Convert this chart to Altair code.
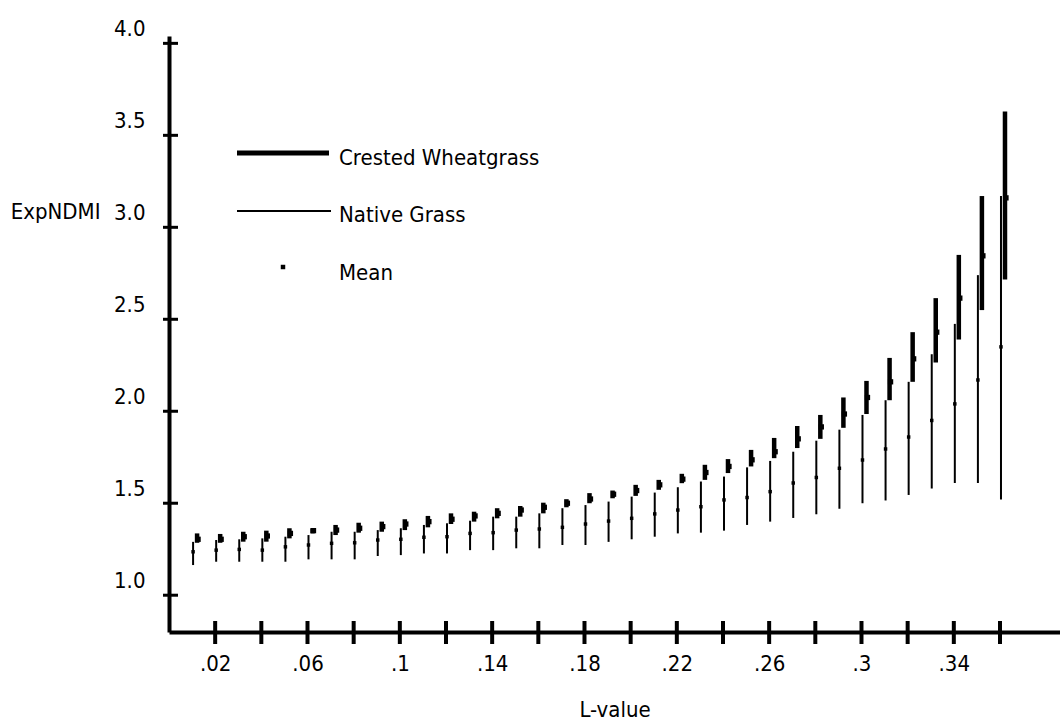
import altair as alt
import pandas as pd

# L-value categories along the x axis
L_VALUES = [0.01, 0.02, 0.03, 0.04, 0.05, 0.06, 0.07, 0.08, 0.09, 0.10,
            0.11, 0.12, 0.13, 0.14, 0.15, 0.16, 0.17, 0.18, 0.19, 0.20,
            0.21, 0.22, 0.23, 0.24, 0.25, 0.26, 0.27, 0.28, 0.29, 0.30,
            0.31, 0.32, 0.33, 0.34, 0.35, 0.36]

# Native Grass: range (low/high) and mean of ExpNDMI
NATIVE_LOW = [1.164, 1.182, 1.182, 1.182, 1.182, 1.195, 1.195, 1.195, 1.213, 1.218,
              1.227, 1.227, 1.245, 1.245, 1.255, 1.255, 1.273, 1.273, 1.290, 1.304,
              1.318, 1.336, 1.340, 1.351, 1.382, 1.400, 1.420, 1.440, 1.470, 1.500,
              1.515, 1.545, 1.580, 1.610, 1.610, 1.520]
NATIVE_HIGH = [1.290, 1.300, 1.304, 1.309, 1.318, 1.327, 1.345, 1.345, 1.354, 1.364,
               1.382, 1.391, 1.405, 1.427, 1.427, 1.445, 1.473, 1.490, 1.509, 1.536,
               1.558, 1.587, 1.618, 1.645, 1.695, 1.730, 1.780, 1.840, 1.900, 1.980,
               2.060, 2.160, 2.310, 2.475, 2.740, 3.170]
NATIVE_MEAN = [1.236, 1.245, 1.249, 1.245, 1.263, 1.273, 1.282, 1.285, 1.300, 1.304,
               1.315, 1.318, 1.336, 1.340, 1.354, 1.360, 1.369, 1.387, 1.403, 1.418,
               1.442, 1.463, 1.481, 1.518, 1.531, 1.563, 1.610, 1.640, 1.690, 1.735,
               1.795, 1.860, 1.950, 2.040, 2.170, 2.350]

# Crested Wheatgrass: range (low/high) and mean of ExpNDMI
CRESTED_LOW = [1.285, 1.285, 1.291, 1.291, 1.309, 1.336, 1.327, 1.340, 1.345, 1.354,
               1.369, 1.387, 1.400, 1.418, 1.427, 1.445, 1.478, 1.500, 1.527, 1.540,
               1.573, 1.609, 1.627, 1.664, 1.700, 1.745, 1.800, 1.850, 1.910, 1.985,
               2.060, 2.160, 2.265, 2.390, 2.550, 2.716]
CRESTED_HIGH = [1.336, 1.333, 1.345, 1.351, 1.364, 1.364, 1.382, 1.394, 1.400, 1.413,
                1.431, 1.445, 1.454, 1.473, 1.485, 1.503, 1.522, 1.555, 1.569, 1.600,
                1.627, 1.660, 1.709, 1.740, 1.790, 1.855, 1.920, 1.980, 2.075, 2.165,
                2.290, 2.430, 2.615, 2.850, 3.170, 3.630]
CRESTED_MEAN = [1.304, 1.304, 1.318, 1.322, 1.336, 1.351, 1.354, 1.364, 1.373, 1.387,
                1.400, 1.413, 1.431, 1.445, 1.463, 1.478, 1.500, 1.523, 1.549, 1.569,
                1.600, 1.631, 1.667, 1.700, 1.736, 1.780, 1.850, 1.915, 1.985, 2.075,
                2.160, 2.285, 2.430, 2.615, 2.845, 3.160]

# Axis tick positions
X_TICKS = [0.02, 0.04, 0.06, 0.08, 0.10, 0.12, 0.14, 0.16, 0.18, 0.20,
           0.22, 0.24, 0.26, 0.28, 0.30, 0.32, 0.34, 0.36]
Y_TICKS = [1.0, 1.5, 2.0, 2.5, 3.0, 3.5, 4.0]

LEGEND_LABELS = ["Crested Wheatgrass", "Native Grass", "Mean"]

FONT = "DejaVu Sans Condensed, Liberation Sans"
FONT_SIZE = 22
W, H = 891, 596

native = pd.DataFrame({"L": L_VALUES, "low": NATIVE_LOW, "high": NATIVE_HIGH, "mean": NATIVE_MEAN})
crested = pd.DataFrame({"L": L_VALUES, "low": CRESTED_LOW, "high": CRESTED_HIGH, "mean": CRESTED_MEAN})
xticks_df = pd.DataFrame({"L": X_TICKS})
yticks_df = pd.DataFrame({"v": Y_TICKS})

x_scale = alt.Scale(domain=[0, 0.386], nice=False, zero=False)
y_scale = alt.Scale(domain=[0.8, 4.04], nice=False, zero=False)

x_axis = alt.Axis(
    values=X_TICKS,
    labelExpr="(round(datum.value*100) % 4 == 2) ? replace(format(datum.value, '.2~f'), '0.', '.') : ''",
    labelPadding=21,
    labelBaseline="top",
    labelFlush=False,
    labelOverlap=False,
    titleY=84,
    titleBaseline="alphabetic",
)
y_axis = alt.Axis(
    values=Y_TICKS,
    format=".1f",
    labelPadding=24,
    labelOffset=-8,
    labelBaseline="alphabetic",
    labelOverlap=False,
    titleAngle=0,
    titleAlign="right",
    titleBaseline="alphabetic",
    titleX=-69,
    titleY=182,
)


def xenc(field="L"):
    return alt.X(f"{field}:Q", scale=x_scale, axis=x_axis, title="L-value")


def yenc(field):
    return alt.Y(f"{field}:Q", scale=y_scale, axis=y_axis, title="ExpNDMI")


native_rule = alt.Chart(native).mark_rule(color="black", strokeWidth=2, xOffset=1).encode(
    x=xenc(), y=yenc("low"), y2="high:Q",
)
crested_rule = alt.Chart(crested).mark_rule(color="black", strokeWidth=4.5, xOffset=5).encode(
    x=xenc(), y=yenc("low"), y2="high:Q",
)
native_mean = alt.Chart(native).mark_square(color="black", opacity=1, size=12, xOffset=1).encode(
    x=xenc(), y=yenc("mean"),
)
crested_mean = alt.Chart(crested).mark_square(color="black", opacity=1, size=28, xOffset=6).encode(
    x=xenc(), y=yenc("mean"),
)

# cross-shaped tick marks on both axes
x_tick_marks = alt.Chart(xticks_df).mark_rule(color="black", strokeWidth=4).encode(
    x=xenc(),
    y=alt.value(H - 11),
    y2=alt.value(H + 12),
)
y_tick_marks = alt.Chart(yticks_df).mark_rule(color="black", strokeWidth=3).encode(
    y=yenc("v"),
    x=alt.value(-6),
    x2=alt.value(9),
)

# legend drawn inside the plot area
one = pd.DataFrame({"k": [0]})
leg_thick = alt.Chart(one).mark_rule(color="black", strokeWidth=5).encode(
    x=alt.value(68), x2=alt.value(160), y=alt.value(117)
)
leg_thin = alt.Chart(one).mark_rule(color="black", strokeWidth=2).encode(
    x=alt.value(68), x2=alt.value(162), y=alt.value(175)
)
leg_dot = alt.Chart(one).mark_square(color="black", opacity=1, size=20).encode(
    x=alt.value(114), y=alt.value(231)
)
leg_texts = []
for label, yb in zip(LEGEND_LABELS, [129, 186, 244]):
    leg_texts.append(
        alt.Chart(pd.DataFrame({"t": [label]})).mark_text(
            font=FONT, fontSize=FONT_SIZE, align="left", baseline="alphabetic", color="black"
        ).encode(text="t:N", x=alt.value(170), y=alt.value(yb))
    )

chart = alt.layer(
    native_rule, crested_rule, native_mean, crested_mean,
    x_tick_marks, y_tick_marks, leg_thick, leg_thin, leg_dot, *leg_texts,
).properties(
    width=W,
    height=H,
    autosize="none",
    padding={"left": 169, "top": 36, "right": 0, "bottom": 91},
    background="white",
).configure_view(
    stroke=None
).configure_axis(
    domainColor="black",
    domainWidth=4,
    ticks=False,
    tickSize=0,
    grid=False,
    labelFont=FONT,
    labelFontSize=FONT_SIZE,
    labelColor="black",
    titleFont=FONT,
    titleFontSize=FONT_SIZE,
    titleFontWeight="normal",
    titleColor="black",
)

chart.save("out.html", embed_options={"renderer": "svg", "actions": False})
